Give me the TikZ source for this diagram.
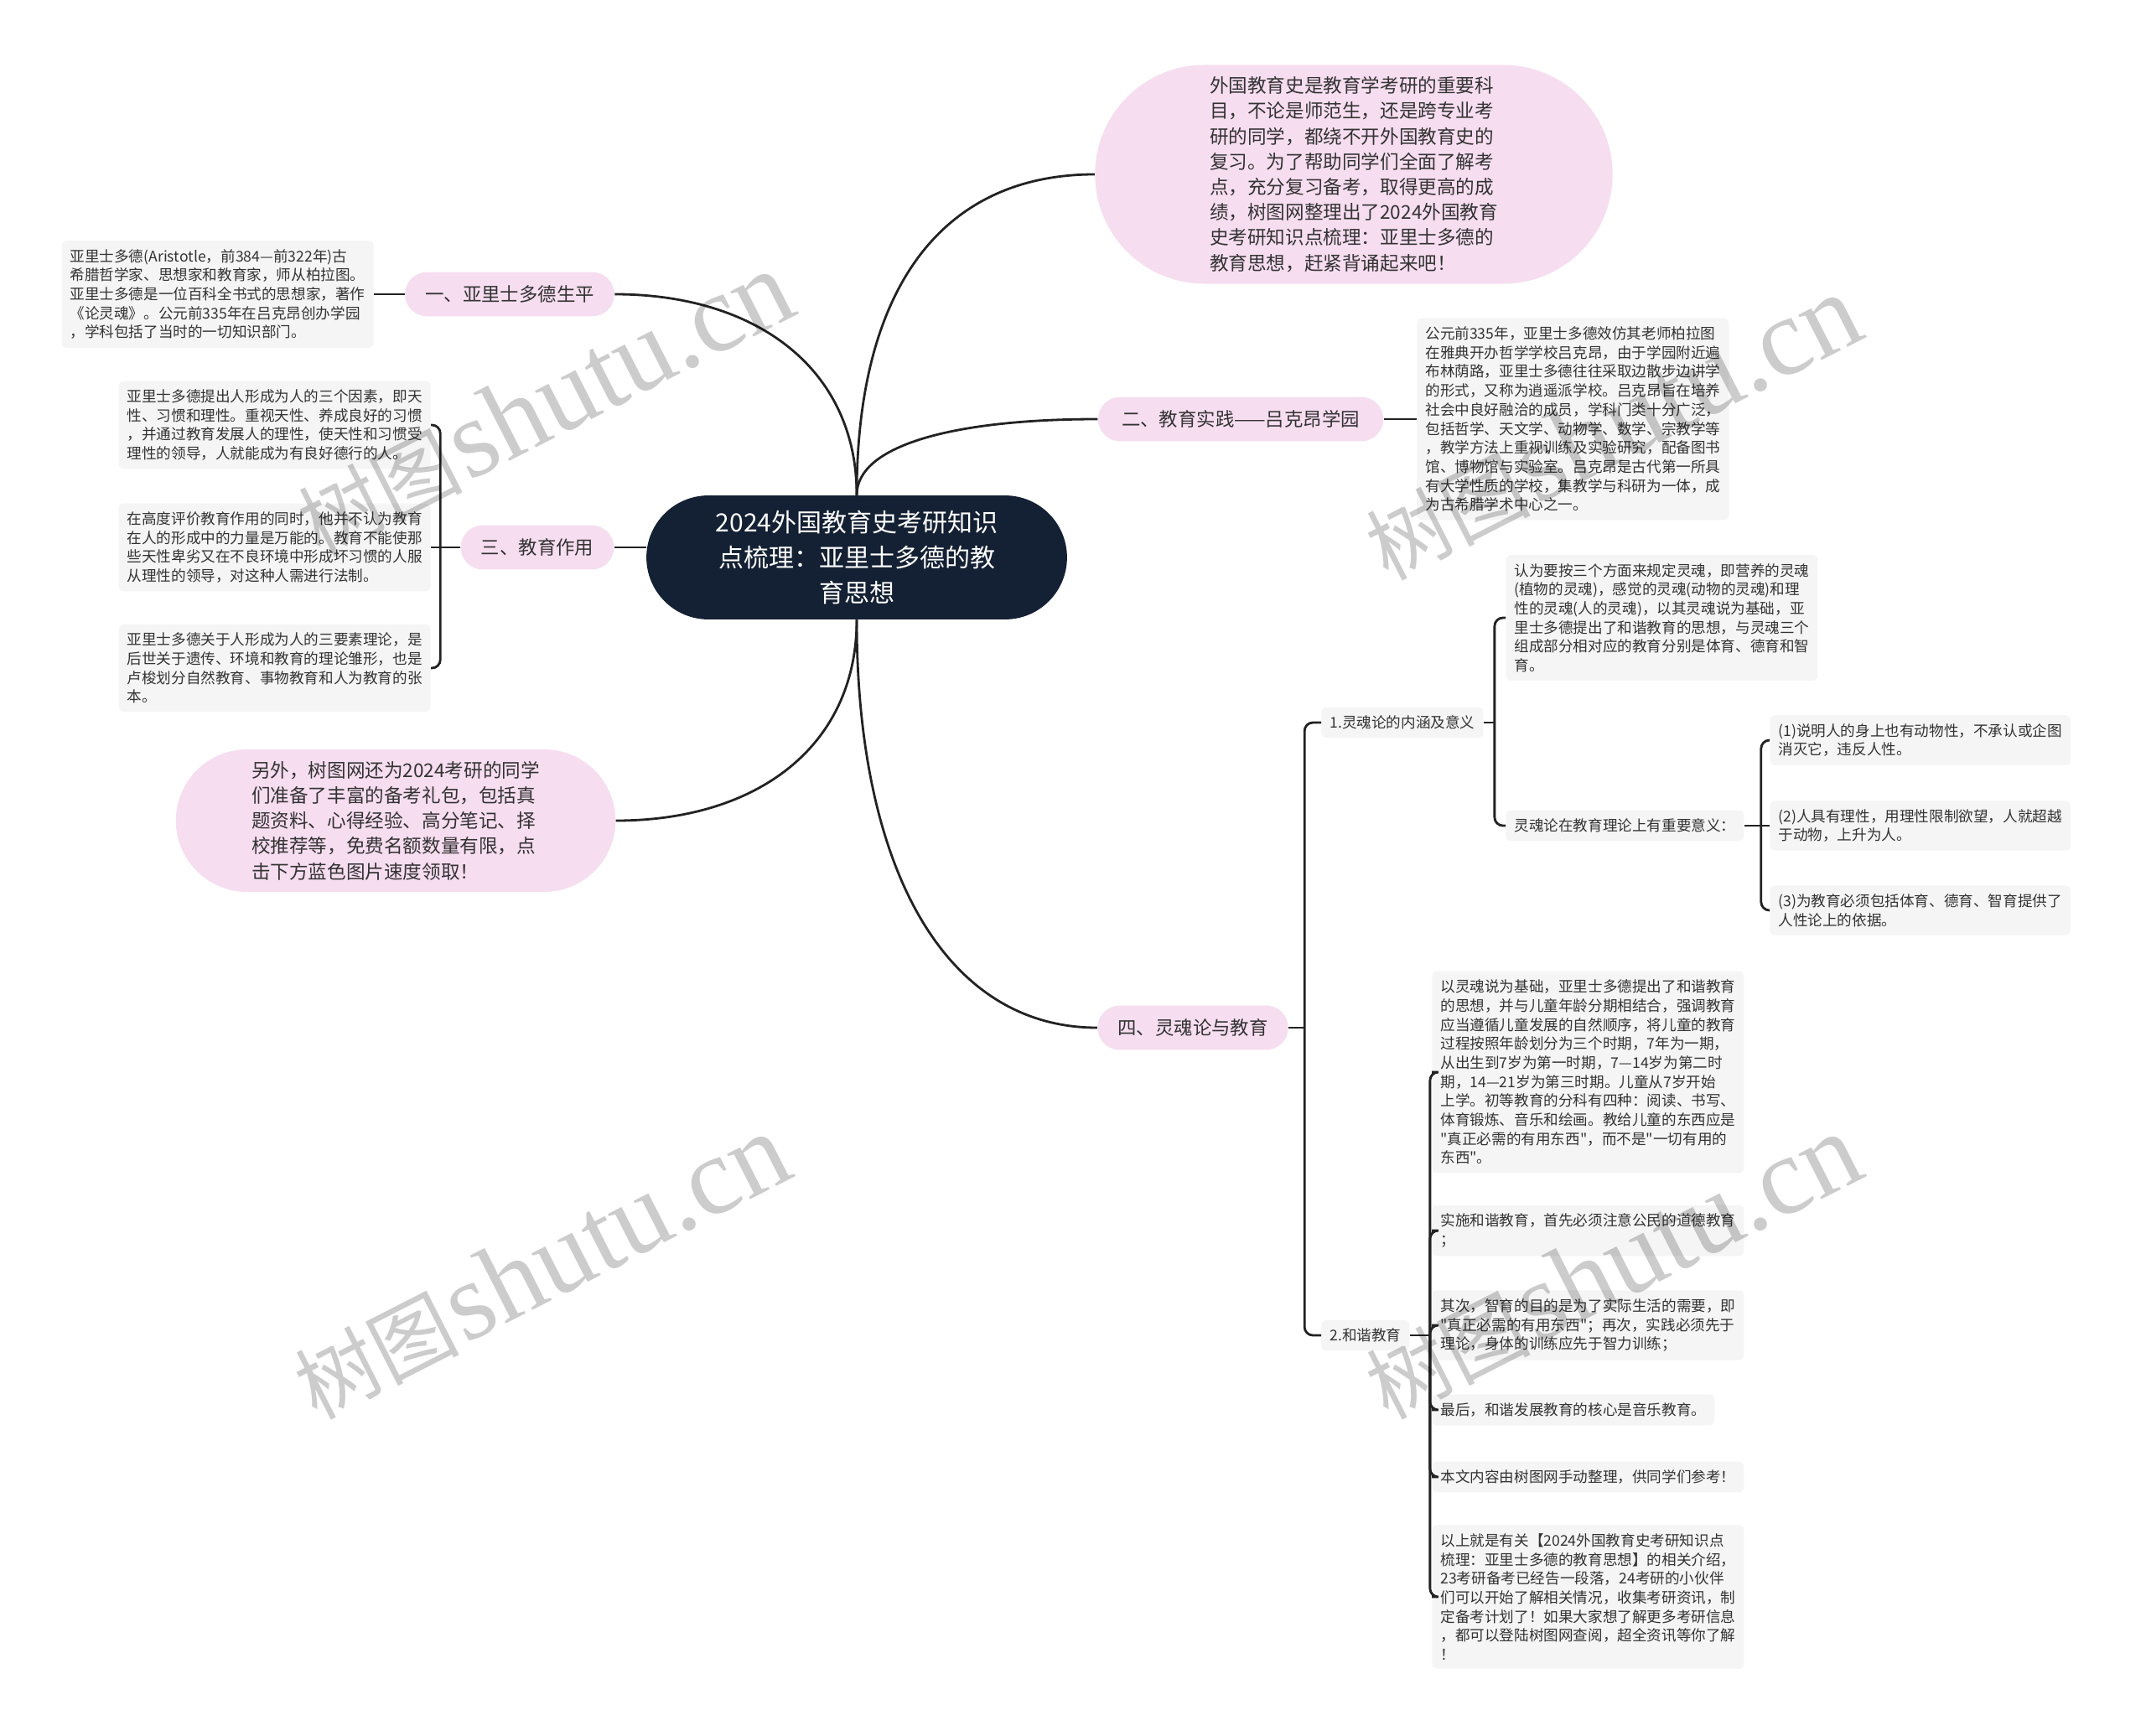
\documentclass[tikz,border=0pt]{standalone}
\usepackage{fontspec}
\setmainfont{Noto Sans CJK SC}
\newfontfamily\cjk{Noto Sans CJK SC}
\newfontfamily\wmfont{Liberation Serif}
\usetikzlibrary{shapes.misc}

\definecolor{rootcolor}{RGB}{20,32,51}
\definecolor{topiccolor}{RGB}{246,221,240}
\definecolor{leafcolor}{RGB}{245,245,245}
\definecolor{linecolor}{RGB}{34,34,34}
\definecolor{textcolor}{RGB}{51,51,51}

\newlength{\du}
\setlength{\du}{0.5pt}

\newcommand{\wmtext}{{\cjk\fontsize{49}{49}\selectfont 树图} {\wmfont\fontsize{66}{66}\selectfont shutu.cn}}

\tikzset{
  root/.style={rounded rectangle, fill=rootcolor, text=white, align=center,
    font=\cjk\fontsize{15}{21}\selectfont, inner xsep=28.5pt, inner ysep=9pt},
  topic/.style={rounded rectangle, fill=topiccolor, text=textcolor,
    font=\cjk\fontsize{11.2}{14}\selectfont, inner xsep=11pt, inner ysep=8pt},
  bubble/.style={rounded rectangle, fill=topiccolor, text=textcolor, align=left,
    font=\cjk\fontsize{11.3}{15.1}\selectfont, inner ysep=7pt},
  leaf/.style={rectangle, rounded corners=3pt, fill=leafcolor, text=textcolor, align=left,
    font=\cjk\fontsize{8.8}{11.35}\selectfont, inner xsep=5pt, inner ysep=5pt},
  link/.style={draw=linecolor, line width=1.4pt},
  bracket/.style={link, rounded corners=5pt},
  watermark/.style={rotate=27, text=black, text opacity=0.2}
}

\begin{document}
\begin{tikzpicture}
\pgftransformxscale{1.000000}
\pgftransformyscale{-1.000000}
\useasboundingbox (0\du,0\du) rectangle (2560\du,2071\du);
\fill[white] (0\du,0\du) rectangle (2560\du,2071\du);

% centre
\node[root] (root) at (1022\du,665\du) {2024外国教育史考研知识\\点梳理：亚里士多德的教\\育思想};

% level one
\node[topic] (p1) at (608\du,351\du) {一、亚里士多德生平};
\node[topic, inner xsep=13pt] (p2) at (1480\du,500\du) {二、教育实践——吕克昂学园};
\node[topic] (p3) at (641\du,653\du) {三、教育作用};
\node[topic] (p4) at (1423\du,1226\du) {四、灵魂论与教育};
\node[bubble, inner xsep=32.5pt] (intro) at (1615\du,208\du) {外国教育史是教育学考研的重要科\\目，不论是师范生，还是跨专业考\\研的同学，都绕不开外国教育史的\\复习。为了帮助同学们全面了解考\\点，充分复习备考，取得更高的成\\绩，树图网整理出了2024外国教育\\史考研知识点梳理：亚里士多德的\\教育思想，赶紧背诵起来吧！};
\node[bubble, inner xsep=26pt] (gift) at (472\du,979\du) {另外，树图网还为2024考研的同学\\们准备了丰富的备考礼包，包括真\\题资料、心得经验、高分笔记、择\\校推荐等，免费名额数量有限，点\\击下方蓝色图片速度领取！};

\draw[link] (root.north) .. controls +(0,-150\du) and +(170\du,0) .. (p1.east);
\draw[link] (root.north) .. controls +(0,-250\du) and +(-180\du,0) .. (intro.west);
\draw[link] (root.north) .. controls +(0,-60\du) and +(-170\du,0) .. (p2.west);
\draw[link] (p3.east) -- (p3.east -| root.west);
\draw[link] (root.south) .. controls +(0,150\du) and +(170\du,0) .. (gift.east);
\draw[link] (root.south) .. controls +(0,300\du) and +(-180\du,0) .. (p4.west);

% 一
\node[leaf, anchor=east] (life) at (446\du,351\du) {亚里士多德(Aristotle，前384—前322年)古\\希腊哲学家、思想家和教育家，师从柏拉图。\\亚里士多德是一位百科全书式的思想家，著作\\《论灵魂》。公元前335年在吕克昂创办学园\\，学科包括了当时的一切知识部门。};
\draw[link] (p1.west) -- (life.east);

% 二
\node[leaf, anchor=west] (lyceum) at (1690\du,500\du) {公元前335年，亚里士多德效仿其老师柏拉图\\在雅典开办哲学学校吕克昂，由于学园附近遍\\布林荫路，亚里士多德往往采取边散步边讲学\\的形式，又称为逍遥派学校。吕克昂旨在培养\\社会中良好融洽的成员，学科门类十分广泛，\\包括哲学、天文学、动物学、数学、宗教学等\\，教学方法上重视训练及实验研究，配备图书\\馆、博物馆与实验室。吕克昂是古代第一所具\\有大学性质的学校，集教学与科研为一体，成\\为古希腊学术中心之一。};
\draw[link] (p2.east) -- (lyceum.west);

% 三
\node[leaf, anchor=east] (role1) at (514\du,507\du) {亚里士多德提出人形成为人的三个因素，即天\\性、习惯和理性。重视天性、养成良好的习惯\\，并通过教育发展人的理性，使天性和习惯受\\理性的领导，人就能成为有良好德行的人。};
\node[leaf, anchor=east] (role2) at (514\du,653\du) {在高度评价教育作用的同时，他并不认为教育\\在人的形成中的力量是万能的。教育不能使那\\些天性卑劣又在不良环境中形成坏习惯的人服\\从理性的领导，对这种人需进行法制。};
\node[leaf, anchor=east] (role3) at (514\du,797\du) {亚里士多德关于人形成为人的三要素理论，是\\后世关于遗传、环境和教育的理论雏形，也是\\卢梭划分自然教育、事物教育和人为教育的张\\本。};
\draw[link] (p3.west) -- ++(-24\du,0) coordinate (b3);
\draw[bracket] (b3) |- (role1.east);
\draw[link] (b3) -- (role2.east);
\draw[bracket] (b3) |- (role3.east);

% 四
\node[leaf, anchor=west] (soul) at (1576\du,862\du) {1.灵魂论的内涵及意义};
\node[leaf, anchor=west] (harmony) at (1576\du,1593\du) {2.和谐教育};
\draw[link] (p4.east) -- ++(19\du,0) coordinate (b4);
\draw[bracket] (b4) |- (soul.west);
\draw[bracket] (b4) |- (harmony.west);

\node[leaf, anchor=west] (soulA) at (1796\du,737\du) {认为要按三个方面来规定灵魂，即营养的灵魂\\(植物的灵魂)，感觉的灵魂(动物的灵魂)和理\\性的灵魂(人的灵魂)，以其灵魂说为基础，亚\\里士多德提出了和谐教育的思想，与灵魂三个\\组成部分相对应的教育分别是体育、德育和智\\育。};
\node[leaf, anchor=west] (soulB) at (1796\du,985\du) {灵魂论在教育理论上有重要意义：};
\draw[link] (soul.east) -- ++(13\du,0) coordinate (bs);
\draw[bracket] (bs) |- (soulA.west);
\draw[bracket] (bs) |- (soulB.west);

\node[leaf, anchor=west] (mean1) at (2111\du,883\du) {(1)说明人的身上也有动物性，不承认或企图\\消灭它，违反人性。};
\node[leaf, anchor=west] (mean2) at (2111\du,985\du) {(2)人具有理性，用理性限制欲望，人就超越\\于动物，上升为人。};
\node[leaf, anchor=west] (mean3) at (2111\du,1086\du) {(3)为教育必须包括体育、德育、智育提供了\\人性论上的依据。};
\draw[link] (soulB.east) -- ++(20\du,0) coordinate (bm);
\draw[bracket] (bm) |- (mean1.west);
\draw[link] (bm) -- (mean2.west);
\draw[bracket] (bm) |- (mean3.west);

\node[leaf, anchor=west] (har1) at (1708\du,1279\du) {以灵魂说为基础，亚里士多德提出了和谐教育\\的思想，并与儿童年龄分期相结合，强调教育\\应当遵循儿童发展的自然顺序，将儿童的教育\\过程按照年龄划分为三个时期，7年为一期，\\从出生到7岁为第一时期，7—14岁为第二时\\期，14—21岁为第三时期。儿童从7岁开始\\上学。初等教育的分科有四种：阅读、书写、\\体育锻炼、音乐和绘画。教给儿童的东西应是\\"真正必需的有用东西"，而不是"一切有用的\\东西"。};
\node[leaf, anchor=west] (har2) at (1708\du,1468\du) {实施和谐教育，首先必须注意公民的道德教育\\；};
\node[leaf, anchor=west] (har3) at (1708\du,1581\du) {其次，智育的目的是为了实际生活的需要，即\\"真正必需的有用东西"；再次，实践必须先于\\理论，身体的训练应先于智力训练；};
\node[leaf, anchor=west] (har4) at (1708\du,1682\du) {最后，和谐发展教育的核心是音乐教育。};
\node[leaf, anchor=west] (har5) at (1708\du,1762\du) {本文内容由树图网手动整理，供同学们参考！};
\node[leaf, anchor=west] (har6) at (1708\du,1905\du) {以上就是有关【2024外国教育史考研知识点\\梳理：亚里士多德的教育思想】的相关介绍，\\23考研备考已经告一段落，24考研的小伙伴\\们可以开始了解相关情况，收集考研资讯，制\\定备考计划了！如果大家想了解更多考研信息\\，都可以登陆树图网查阅，超全资讯等你了解\\！};
\draw[link] (harmony.east) -- ++(24\du,0) coordinate (bh);
\foreach \n in {har1,har2,har3,har4,har5,har6}
  \draw[bracket] (bh) |- (\n.west);

% watermark
\node[watermark] (wm1) at (649\du,482\du) {\wmtext};
\node[watermark] (wm2) at (645\du,1511\du) {\wmtext};
\node[watermark] (wm3) at (1923\du,510\du) {\wmtext};
\node[watermark] (wm4) at (1923\du,1511\du) {\wmtext};
\end{tikzpicture}
\end{document}
